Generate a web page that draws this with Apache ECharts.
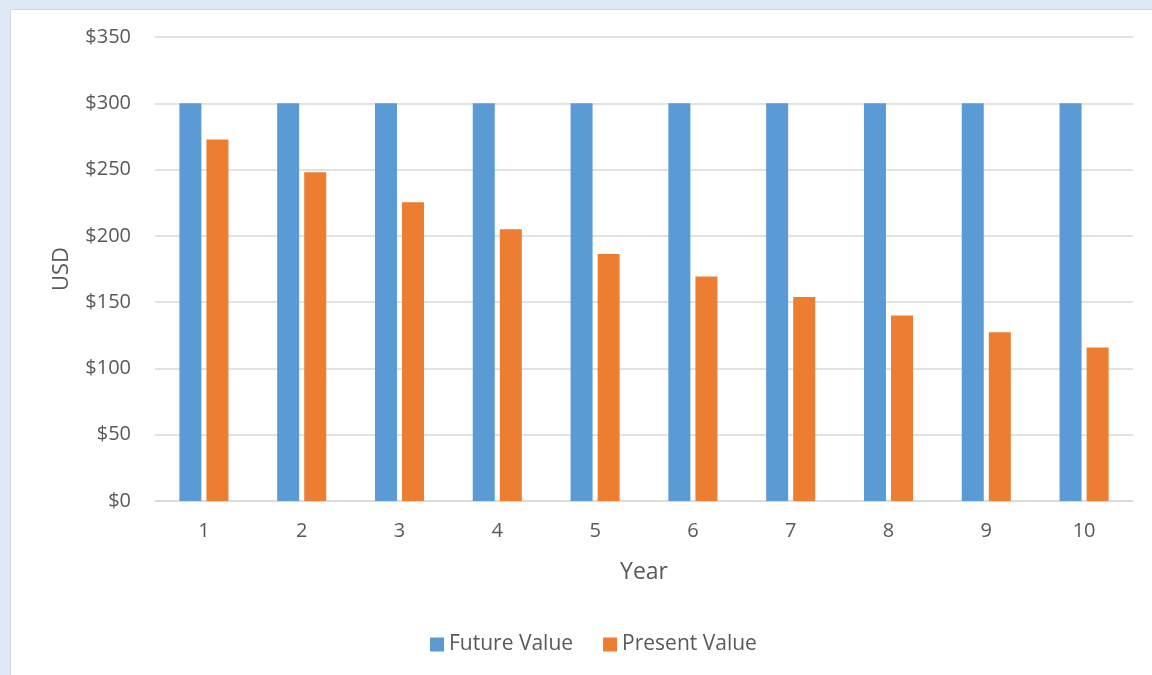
<!DOCTYPE html>
<html><head><meta charset="utf-8">
<script src="https://cdn.jsdelivr.net/npm/echarts@6/dist/echarts.min.js"></script>
<style>html,body{margin:0;padding:0;background:#dfe9f5;}#c{width:1152px;height:675px;}</style>
</head><body><div id="c"></div>
<script>
const years = ['1','2','3','4','5','6','7','8','9','10'];
const futureValue = [300,300,300,300,300,300,300,300,300,300];
const presentValue = [272.7,247.9,225.4,204.9,186.3,169.3,153.9,140.0,127.2,115.7];
const yTicks = {min:0, max:350, interval:50};

const chart = echarts.init(document.getElementById('c'));
const font = "'Open Sans', 'Noto Sans', sans-serif";
chart.setOption({
  backgroundColor: '#dfe9f5',
  textStyle: {fontFamily: font},
  graphic: [{type:'rect', shape:{x:10.5,y:9.5,width:1150,height:670}, style:{fill:'#ffffff', stroke:'#d6d6d6', lineWidth:1}, z:-10}],
  grid: {left:155, right:19, top:37, bottom:174},
  legend: {
    bottom: 15, left: 425, itemWidth: 14, itemHeight: 14, itemGap: 30, icon: 'rect',
    textStyle: {fontSize: 21, color:'#595959', fontFamily: font},
    data: ['Future Value','Present Value']
  },
  xAxis: {
    type:'category', data: years,
    name:'Year', nameLocation:'middle', nameGap: 60,
    nameTextStyle:{fontSize:23, color:'#595959'},
    axisLine:{lineStyle:{color:'#d9d9d9', width:1.5}},
    axisTick:{show:false},
    axisLabel:{fontSize:20, color:'#595959', margin:20}
  },
  yAxis: {
    type:'value', min:yTicks.min, max:yTicks.max, interval:yTicks.interval,
    name:'USD', nameLocation:'middle', nameGap: 82, nameRotate: 90,
    nameTextStyle:{fontSize:22, color:'#595959'},
    axisLine:{show:false}, axisTick:{show:false},
    splitLine:{lineStyle:{color:'#d9d9d9', width:1.5}},
    axisLabel:{fontSize:20, color:'#595959', margin:24, formatter: v => '$' + v}
  },
  series: [
    {name:'Future Value', type:'bar', data: futureValue, barWidth:22, barGap:'23%',
     itemStyle:{color:'#5b9bd5'}},
    {name:'Present Value', type:'bar', data: presentValue, barWidth:22,
     itemStyle:{color:'#ed7d31'}}
  ]
});
</script></body></html>
